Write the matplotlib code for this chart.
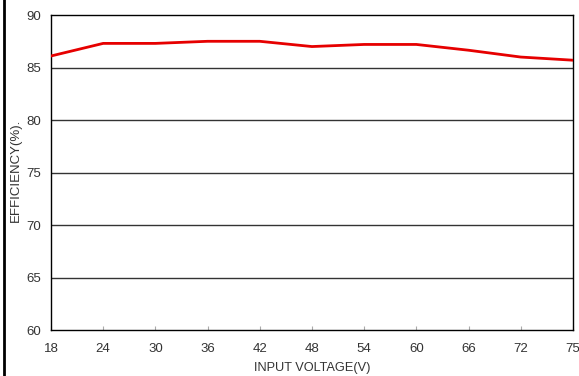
import numpy as np
import matplotlib.pyplot as plt

plt.rcParams['font.family'] = ['Liberation Sans', 'DejaVu Sans']

# input voltage categories (equally spaced on the chart)
voltage = ['18', '24', '30', '36', '42', '48', '54', '60', '66', '72', '75']
efficiency = [86.1, 87.3, 87.3, 87.5, 87.5, 87.0, 87.2, 87.2, 86.65, 86.0, 85.7]
y_ticks = [60, 65, 70, 75, 80, 85, 90]

fig = plt.figure(figsize=(5.79, 3.76), dpi=100)
ax = fig.add_axes([0.088, 0.122, 0.9015, 0.838])

x = np.arange(len(voltage))
for yv in y_ticks[1:-1]:
    ax.axhline(yv, color='#333333', lw=1.0, zorder=1)
ax.plot(x, efficiency, color='#e60000', lw=2.0, zorder=3)

ax.set_xlim(0, len(voltage) - 1)
ax.set_ylim(60, 90)
ax.set_xticks(x)
ax.set_xticklabels(voltage)
ax.set_yticks(y_ticks)
ax.tick_params(axis='x', direction='in', length=3, color='#aaaaaa',
               labelsize=9.5, labelcolor='#333333', pad=9)
ax.tick_params(axis='y', length=0, labelsize=9.5, labelcolor='#333333', pad=7)
for s in ax.spines.values():
    s.set_color('black')
    s.set_linewidth(1.0)

ax.set_xlabel('INPUT VOLTAGE(V)', fontsize=9.2, color='#333333', labelpad=5)
fig.text(0.027, 0.548, 'EFFICIENCY(%).', rotation=90, fontsize=9.5,
         color='#333333', ha='center', va='center')

# black border on the left edge
fig.add_artist(plt.Line2D([0.007, 0.007], [0, 1], color='black', lw=2,
                          transform=fig.transFigure))

fig.savefig('out.png', dpi=100)
